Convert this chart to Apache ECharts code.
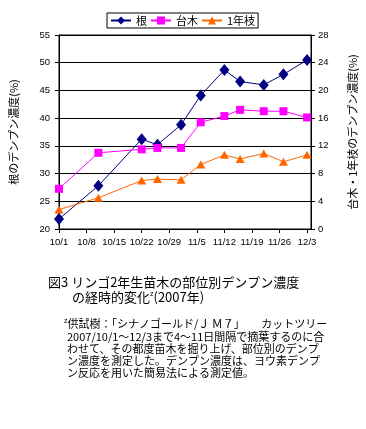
<!DOCTYPE html>
<html><head><meta charset="utf-8">
<script src="https://cdn.jsdelivr.net/npm/echarts@6/dist/echarts.min.js"></script>
<style>html,body{margin:0;padding:0;background:#fff}#c{width:366px;height:429px}</style>
</head><body><div id="c"></div>
<script>
const sampleDates = ['10/1','10/11','10/22','10/26','11/1','11/6','11/12','11/16','11/22','11/27','12/3'];
const rootValues = [21.8, 27.8, 36.2, 35.2, 38.8, 44.1, 48.7, 46.6, 46.0, 47.9, 50.5];
const rootstockValues = [5.8, 11.0, 11.5, 11.7, 11.7, 15.4, 16.3, 17.2, 17.0, 17.0, 16.1];
const shootValues = [2.8, 4.5, 7.0, 7.2, 7.1, 9.3, 10.7, 10.1, 10.9, 9.7, 10.7];
const xTickLabels = ['10/1','10/8','10/15','10/22','10/29','11/5','11/12','11/19','11/26','12/3'];
const seriesNames = ['根','台木','1年枝'];
const titleLines = ['図3 リンゴ2年生苗木の部位別デンプン濃度', 'の経時的変化', '(2007年)'];
const noteLines = [
  '供試樹：「シナノゴールド/Ｊ Ｍ７」　　カットツリー',
  '2007/10/1～12/3まで4～11日間隔で摘葉するのに合',
  'わせて、その都度苗木を掘り上げ、部位別のデンプ',
  'ン濃度を測定した。デンプン濃度は、ヨウ素デンプ',
  'ン反応を用いた簡易法による測定値。'
];

const base = new Date(2007, 9, 1);
function dayOffset(s){ const p = s.split('/'); return Math.round((new Date(2007, +p[0]-1, +p[1]) - base) / 86400000); }
const xs = sampleDates.map(dayOffset);
const pair = arr => arr.map((v,i) => [xs[i], v]);

const chart = echarts.init(document.getElementById('c'), null, {renderer:'canvas'});
const tickFont = {fontFamily:'Liberation Sans, Arial, sans-serif', fontSize:9.5, color:'#000'};
const jp = 'Noto Sans CJK JP, sans-serif';
chart.setOption({
  animation:false,
  backgroundColor:'#fff',
  grid:{left:54, top:35, width:257, height:194, show:true, borderColor:'#000', borderWidth:1, backgroundColor:'transparent'},
  legend:{
    data:seriesNames, top:13, left:107, width:160,
    itemWidth:20, itemHeight:10, itemGap:3,
    padding:[2,3,2,3], borderColor:'#000', borderWidth:1, backgroundColor:'#fff',
    textStyle:{fontFamily:jp, fontSize:11, color:'#000'}
  },
  xAxis:{
    type:'value', min:0, max:64, interval:7,
    axisLine:{show:true, lineStyle:{color:'#000', width:1}},
    axisTick:{show:true, length:4, inside:false, lineStyle:{color:'#000'}},
    splitLine:{show:false},
    axisLabel:Object.assign({margin:8, showMaxLabel:false, formatter:function(v){ return (v % 7 === 0 && xTickLabels[v/7] !== undefined) ? xTickLabels[v/7] : ''; }}, tickFont)
  },
  yAxis:[
    {type:'value', min:20, max:55, interval:5, position:'left',
     name:'根のデンプン濃度(%)', nameLocation:'middle', nameGap:40, nameRotate:90,
     nameTextStyle:{fontFamily:jp, fontSize:11, color:'#000'},
     axisLine:{show:true, lineStyle:{color:'#000'}},
     axisTick:{show:true, length:4, lineStyle:{color:'#000'}},
     splitLine:{show:true, lineStyle:{color:'#000', width:1}},
     axisLabel:Object.assign({margin:9}, tickFont)},
    {type:'value', min:0, max:28, interval:4, position:'right',
     name:'台木・1年枝のデンプン濃度(%)', nameLocation:'middle', nameGap:36, nameRotate:90,
     nameTextStyle:{fontFamily:jp, fontSize:11, color:'#000'},
     axisLine:{show:true, lineStyle:{color:'#000'}},
     axisTick:{show:true, length:4, lineStyle:{color:'#000'}},
     splitLine:{show:false},
     axisLabel:Object.assign({margin:7}, tickFont)}
  ],
  series:[
    {name:seriesNames[0], type:'line', yAxisIndex:0, data:pair(rootValues),
     symbol:'diamond', symbolSize:[10,12], color:'#000080',
     lineStyle:{color:'#000080', width:1}, itemStyle:{color:'#000080'}},
    {name:seriesNames[1], type:'line', yAxisIndex:1, data:pair(rootstockValues),
     symbol:'rect', symbolSize:8, color:'#FF00FF',
     lineStyle:{color:'#FF00FF', width:1}, itemStyle:{color:'#FF00FF'}},
    {name:seriesNames[2], type:'line', yAxisIndex:1, data:pair(shootValues),
     symbol:'triangle', symbolSize:[9,8], color:'#FF6600',
     lineStyle:{color:'#FF6600', width:1}, itemStyle:{color:'#FF6600'}}
  ],
  graphic:[
    {type:'text', left:48, top:276, style:{text:titleLines[0], font:'13px "Noto Sans CJK JP"', fill:'#000'}},
    {type:'text', left:72, top:291, style:{
      text:'{m|'+titleLines[1]+'}{s|z}{m|'+titleLines[2]+'}',
      rich:{m:{font:'13px "Noto Sans CJK JP"', fill:'#000', verticalAlign:'bottom'}, s:{font:'7px "Liberation Sans"', fill:'#000', verticalAlign:'top'}}}},
    {type:'text', left:64, top:318, style:{
      text:'{s|z}{m|'+noteLines[0]+'}',
      rich:{m:{font:'11px "Noto Sans CJK JP"', fill:'#000', verticalAlign:'bottom'}, s:{font:'7px "Liberation Sans"', fill:'#000', verticalAlign:'top'}}}},
    {type:'text', left:67, top:331, style:{text:noteLines[1], font:'11px "Noto Sans CJK JP"', fill:'#000'}},
    {type:'text', left:67, top:343, style:{text:noteLines[2], font:'11px "Noto Sans CJK JP"', fill:'#000'}},
    {type:'text', left:67, top:355, style:{text:noteLines[3], font:'11px "Noto Sans CJK JP"', fill:'#000'}},
    {type:'text', left:67, top:367, style:{text:noteLines[4], font:'11px "Noto Sans CJK JP"', fill:'#000'}}
  ]
});
</script></body></html>
